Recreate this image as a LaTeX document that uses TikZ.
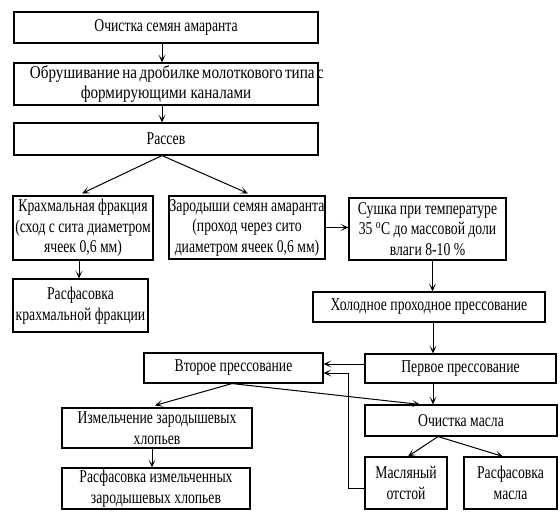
\documentclass[tikz,border=0pt]{standalone}
\usepackage{fontspec}
\setmainfont[FakeStretch=0.76]{Liberation Serif}
\newfontfamily\widerfont[FakeStretch=0.84]{Liberation Serif}
\usetikzlibrary{arrows.meta,calc}
\begin{document}
\begin{tikzpicture}[x=1pt,y=-1pt,
  box/.style={draw,line width=1.1pt,inner sep=0pt,align=center,
    font=\fontsize{18}{20.5}\selectfont},
  arr/.style={line width=1pt,-{Stealth[length=8pt,width=7pt,inset=4.5pt]}}]
\useasboundingbox (0,0) rectangle (560,530);
\node[box,minimum width=304pt,minimum height=31pt] (b1) at (166,27.5) {Очистка семян амаранта};
\node[box,minimum width=304pt,minimum height=42pt] (b2) at (166,84) {\widerfont\makebox[272pt][s]{Обрушивание на дробилке молоткового типа с}\\\widerfont формирующими каналами};
\node[box,minimum width=304pt,minimum height=32pt] (b3) at (166,139) {Рассев};
\node[box,minimum width=140pt,minimum height=64pt] (krah) at (83,228) {Крахмальная фракция\\(сход с сита диаметром\\ячеек 0,6 мм)};
\node[box,minimum width=156pt,minimum height=63pt] (zar) at (247,227.5) {Зародыши семян амаранта\\(проход через сито\\диаметром ячеек 0,6 мм)};
\node[box,minimum width=157pt,minimum height=62pt] (sush) at (427.5,229) {Сушка при температуре\\35 \textsuperscript{o}C до массовой доли\\влаги 8-10 \%};
\node[box,minimum width=135pt,minimum height=53pt] (rasf1) at (80.5,305.5) {Расфасовка\\крахмальной фракции};
\node[box,minimum width=232pt,minimum height=30pt] (hol) at (429,307) {Холодное проходное прессование};
\node[box,minimum width=191pt,minimum height=29pt] (perv) at (460.5,368.5) {Первое прессование};
\node[box,minimum width=179pt,minimum height=30pt] (vtor) at (233.5,368) {Второе прессование};
\node[box,minimum width=190pt,minimum height=40pt] (izm) at (157,428) {Измельчение зародышевых\\хлопьев};
\node[box,minimum width=188pt,minimum height=41pt] (rasf2) at (156,488.5) {Расфасовка измельченных\\зародышевых хлопьев};
\node[box,minimum width=192pt,minimum height=31pt] (och) at (461,420.5) {Очистка масла};
\node[box,minimum width=82pt,minimum height=52pt] (masl) at (406,483) {Масляный\\отстой};
\node[box,minimum width=93pt,minimum height=52pt] (rasfm) at (510.5,483) {Расфасовка\\масла};
% helper coordinates
\coordinate (t1) at ($(b1.south)+(-4,0)$);
\coordinate (t2) at ($(b2.south)+(-4,0)$);
\coordinate (t3) at ($(b3.south)+(-4,0)$);
\coordinate (k1) at ($(krah.south)+(-4,0)$);
\coordinate (s1) at ($(sush.south)+(5,0)$);
\coordinate (h1) at ($(hol.south)+(4,0)$);
\coordinate (pw) at ($(perv.west)+(0,-4.5)$);
\coordinate (pv) at (h1 |- perv.south);
\coordinate (vs) at ($(vtor.south)+(-1.5,0)$);
\coordinate (iz) at ($(izm.south)+(-5,0)$);
\coordinate (os) at ($(och.south)+(-23,0)$);
\coordinate (mw) at ($(masl.west)+(0,5)$);
\coordinate (bend) at (348,0);
\coordinate (ve) at ($(vtor.east)+(0,5)$);
% arrows
\draw[arr] (t1) -- (t1 |- b2.north);
\draw[arr] (t2) -- (t2 |- b3.north);
\draw[arr] (t3) -- ($(krah.north)+(-1,-2)$);
\draw[arr] (t3) -- ($(zar.north)+(1,-2)$);
\draw[arr] (k1) -- (k1 |- rasf1.north);
\draw[arr] (zar.east) -- (zar.east -| sush.west);
\draw[arr] (s1) -- (s1 |- hol.north);
\draw[arr] (h1) -- (h1 |- perv.north);
\draw[arr] (pw) -- (pw -| vtor.east);
\draw[arr] (pv) -- (pv |- och.north);
\draw[arr] (vs) -- ($(izm.north)+(-2,-2)$);
\draw[arr] (vs) -- ($(och.north)+(-41,0)$);
\draw[arr] (iz) -- (iz |- rasf2.north);
\draw[arr] (os) -- ($(masl.north)+(2,0)$);
\draw[arr] (os) -- ($(rasfm.north)+(-7.5,0)$);
\draw[arr] (mw) -- (mw -| bend) -- (bend |- ve) -- (ve);
\end{tikzpicture}
\end{document}
